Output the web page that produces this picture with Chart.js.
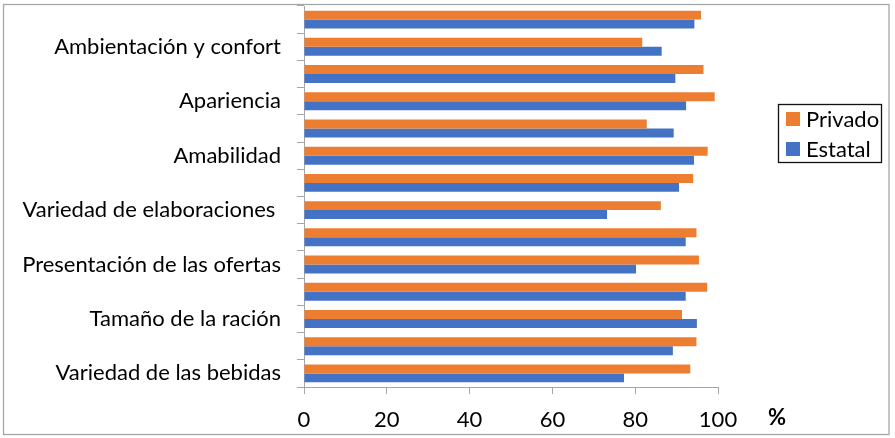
<!DOCTYPE html>
<html>
<head>
<meta charset="utf-8">
<script src="https://cdn.jsdelivr.net/npm/chart.js@4.4.1/dist/chart.umd.min.js"></script>
<style>
html,body{margin:0;padding:0;background:#fff;overflow:hidden}
#c{display:block}
</style>
</head>
<body>
<canvas id="c" width="895" height="438"></canvas>
<script>
// ---- data (top to bottom as drawn) ----
const categories = ['', 'Ambientación y confort', '', 'Apariencia', '', 'Amabilidad', '', 'Variedad de elaboraciones ', '', 'Presentación de las ofertas', '', 'Tamaño de la ración', '', 'Variedad de las bebidas'];
const privado = [95.9, 81.7, 96.5, 99.2, 82.8, 97.5, 94.0, 86.2, 94.8, 95.4, 97.4, 91.3, 94.8, 93.3];
const estatal = [94.3, 86.4, 89.7, 92.3, 89.3, 94.2, 90.6, 73.2, 92.2, 80.2, 92.2, 94.9, 89.1, 77.3];
const seriesNames = ['Privado', 'Estatal'];
const xTicks = [0, 20, 40, 60, 80, 100];
const unitLabel = '%';

const FONT = 'Lato';
const FS = 22;
const ORANGE = '#ED7D31';
const BLUE = '#4472C4';
const AXIS = '#a6a6a6';

const decor = {
  id: 'decor',
  beforeDraw(chart) {
    const ctx = chart.ctx;
    ctx.save();
    ctx.fillStyle = '#fff';
    ctx.fillRect(0, 0, chart.width, chart.height);
    ctx.strokeStyle = AXIS;
    ctx.lineWidth = 1.3;
    ctx.strokeRect(3.5, 4.5, 885.5, 430);
    ctx.restore();
  },
  afterDraw(chart) {
    const ctx = chart.ctx, a = chart.chartArea;
    ctx.save();
    // legend box
    const lx = a.right + 60, ly = 104, lw = 103, lh = 58;
    ctx.strokeStyle = '#111';
    ctx.lineWidth = 1.3;
    ctx.strokeRect(lx + 0.5, ly + 0.5, lw, lh);
    ctx.font = FS + 'px ' + FONT;
    ctx.textBaseline = 'middle';
    ctx.textAlign = 'left';
    chart.data.datasets.forEach((ds, i) => {
      const cy = ly + 15 + i * 30;
      ctx.fillStyle = ds.backgroundColor;
      ctx.fillRect(lx + 8, cy - 7, 14, 14);
      ctx.fillStyle = '#000';
      ctx.fillText(ds.label, lx + 28, cy + 1);
    });
    // unit label
    const xs = chart.scales.x;
    ctx.font = 'bold ' + FS + 'px ' + FONT;
    ctx.textAlign = 'center';
    ctx.fillText(unitLabel, a.right + 59, xs.top + 31);
    ctx.restore();
  }
};

function build() {
  new Chart(document.getElementById('c'), {
    type: 'bar',
    data: {
      labels: categories,
      datasets: [
        { label: seriesNames[0], data: privado, backgroundColor: ORANGE, categoryPercentage: 0.66, barPercentage: 1.0 },
        { label: seriesNames[1], data: estatal, backgroundColor: BLUE, categoryPercentage: 0.66, barPercentage: 1.0 }
      ]
    },
    options: {
      indexAxis: 'y',
      responsive: false,
      animation: false,
      events: [],
      layout: { padding: { left: 0, right: 177, top: 6, bottom: 0 } },
      plugins: { legend: { display: false }, tooltip: { enabled: false } },
      scales: {
        x: {
          min: 0, max: 100,
          afterBuildTicks(s) { s.ticks = xTicks.map(v => ({ value: v })); },
          afterFit(s) { s.height = 51; s.paddingLeft = 0; s.paddingRight = 0; },
          ticks: { color: '#000', font: { family: FONT, size: FS }, padding: 13, maxRotation: 0 },
          grid: { drawOnChartArea: false, tickLength: 7, color: AXIS },
          border: { color: AXIS }
        },
        y: {
          afterFit(s) { s.width = 304; s.paddingTop = 0; s.paddingBottom = 0; },
          ticks: { autoSkip: false, color: '#000', font: { family: FONT, size: FS }, padding: 16 },
          grid: { drawOnChartArea: false, tickLength: 7, color: AXIS, offset: true },
          border: { color: AXIS }
        }
      }
    },
    plugins: [decor]
  });
}

if (document.fonts && document.fonts.load) {
  Promise.all([document.fonts.load(FS + 'px ' + FONT), document.fonts.load('bold ' + FS + 'px ' + FONT)]).then(build, build);
} else { build(); }
</script>
</body>
</html>
